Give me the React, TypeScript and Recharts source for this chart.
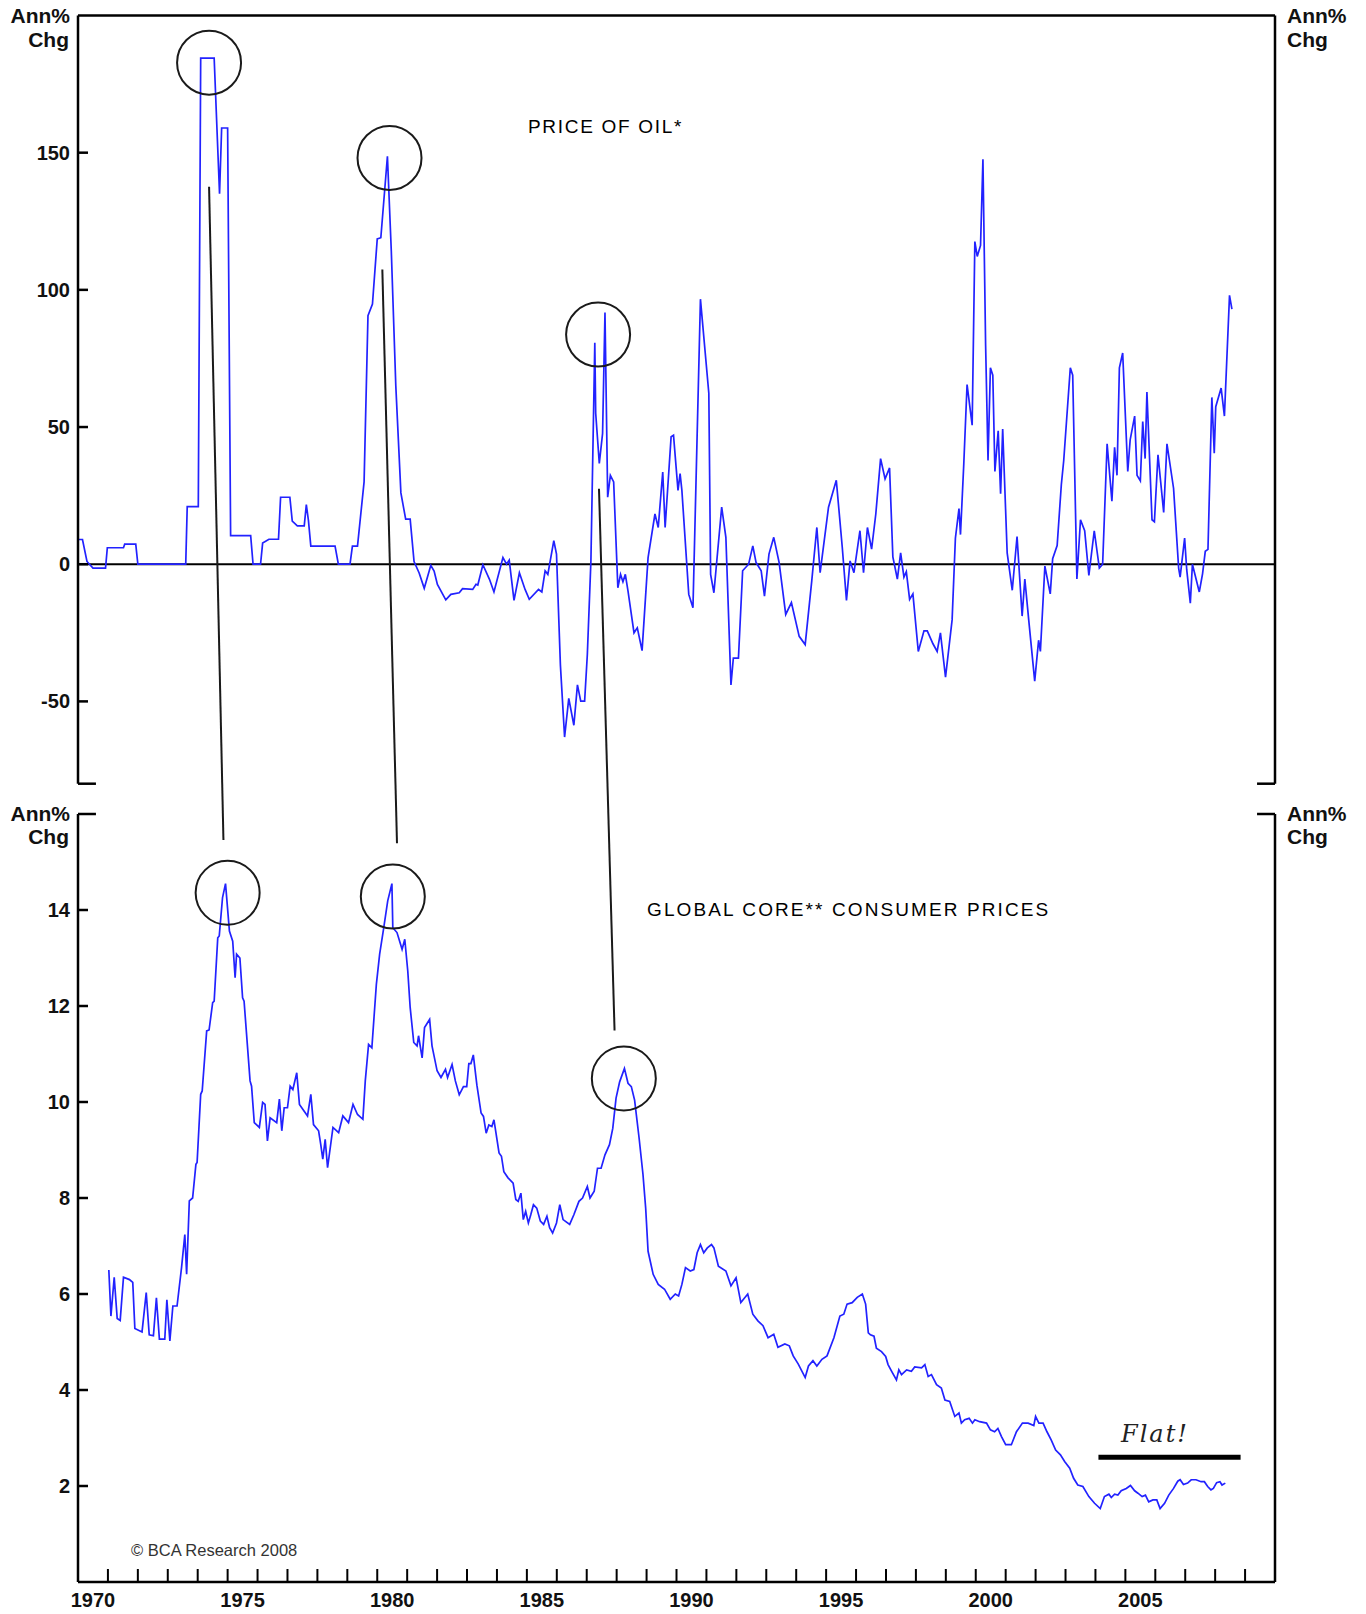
import { LineChart, Line, XAxis, YAxis, ReferenceLine, ReferenceDot } from "recharts"

// ---- data (decimal years, annual % change) ----
const oilYears = [
  1970.0, 1970.15, 1970.3, 1970.5, 1970.92, 1970.98, 1971.52, 1971.56, 1971.93, 1972.0,
  1973.6, 1973.65, 1974.02, 1974.1, 1974.55, 1974.73, 1974.8, 1975.0, 1975.1, 1975.77,
  1975.85, 1976.1, 1976.17, 1976.38, 1976.7, 1976.77, 1977.08, 1977.16, 1977.33, 1977.56,
  1977.63, 1977.7, 1977.78, 1978.59, 1978.7, 1979.09, 1979.17, 1979.34, 1979.56, 1979.69,
  1979.84, 1980.0, 1980.12, 1980.34, 1980.47, 1980.62, 1980.79, 1980.95, 1981.1, 1981.23,
  1981.4, 1981.57, 1981.79, 1981.9, 1982.01, 1982.29, 1982.46, 1982.74, 1982.85, 1983.19,
  1983.3, 1983.36, 1983.53, 1983.75, 1983.9, 1984.2, 1984.32, 1984.41, 1984.57, 1984.75,
  1984.94, 1985.08, 1985.39, 1985.5, 1985.61, 1985.7, 1985.9, 1985.99, 1986.12, 1986.26,
  1986.4, 1986.57, 1986.69, 1986.8, 1986.93, 1987.02, 1987.14, 1987.27, 1987.3, 1987.42,
  1987.53, 1987.61, 1987.7, 1987.79, 1987.9, 1988.04, 1988.13, 1988.21, 1988.29, 1988.38,
  1988.58, 1988.69, 1988.85, 1989.05, 1989.28, 1989.39, 1989.54, 1989.62, 1989.82, 1989.9,
  1990.05, 1990.12, 1990.18, 1990.41, 1990.55, 1990.8, 1991.08, 1991.14, 1991.25, 1991.51,
  1991.65, 1991.82, 1991.9, 1992.07, 1992.21, 1992.41, 1992.55, 1992.66, 1992.83, 1992.94,
  1993.09, 1993.25, 1993.43, 1993.65, 1993.84, 1994.1, 1994.3, 1994.52, 1994.69, 1994.8,
  1995.08, 1995.34, 1995.54, 1995.68, 1995.8, 1995.93, 1996.13, 1996.25, 1996.38, 1996.52,
  1996.66, 1996.82, 1996.97, 1997.12, 1997.23, 1997.38, 1997.49, 1997.6, 1997.68, 1997.79,
  1997.9, 1998.08, 1998.27, 1998.38, 1998.57, 1998.71, 1998.82, 1998.99, 1999.21, 1999.32,
  1999.44, 1999.49, 1999.6, 1999.71, 1999.88, 1999.97, 2000.05, 2000.16, 2000.24, 2000.33,
  2000.41, 2000.49, 2000.57, 2000.64, 2000.75, 2000.83, 2000.9, 2001.05, 2001.22, 2001.38,
  2001.55, 2001.64, 2001.77, 2001.97, 2002.1, 2002.16, 2002.31, 2002.49, 2002.57, 2002.72,
  2002.86, 2002.94, 2003.16, 2003.24, 2003.38, 2003.5, 2003.64, 2003.78, 2003.96, 2004.13,
  2004.24, 2004.39, 2004.55, 2004.64, 2004.72, 2004.8, 2004.91, 2005.08, 2005.16, 2005.31,
  2005.39, 2005.5, 2005.58, 2005.66, 2005.72, 2005.89, 2005.97, 2006.09, 2006.28, 2006.39,
  2006.61, 2006.78, 2006.83, 2006.98, 2007.05, 2007.17, 2007.24, 2007.47, 2007.58, 2007.67,
  2007.76, 2007.89, 2007.97, 2008.02, 2008.2, 2008.31, 2008.48, 2008.56,
]
const oilChange = [
  9, 9, 1, -1.4, -1.4, 6, 6, 7.3, 7.3, 0,
  0, 21, 21, 184.5, 184.5, 135, 159, 159, 10.4, 10.4,
  0, 0, 7.7, 9.1, 9.1, 24.4, 24.4, 15.7, 14, 14,
  21.7, 16, 6.6, 6.6, 0, 0, 6.6, 6.6, 30, 90.6,
  94.8, 118.6, 119, 148.7, 114, 65, 26, 16.4, 16.4, 1,
  -3.2, -8.8, -0.4, -2.5, -7.4, -13, -11, -10.4, -8.9, -9.2,
  -7.3, -7.6, -0.2, -5.5, -10.1, 2.4, 0, 1.5, -13.2, -3.1,
  -9.2, -12.8, -9.2, -10.1, -2.4, -3.7, 8.6, 3.7, -36.7, -63,
  -48.9, -58.7, -44, -49.9, -49.9, -33, 1.2, 80.7, 55, 36.7,
  47.7, 91.7, 24.4, 32.4, 30, -8.6, -3.7, -6.4, -3.7, -9.8,
  -25, -23.2, -31.5, 2.4, 18.3, 13.4, 33.6, 13.4, 46.5, 47,
  26.9, 33, 26.9, -11, -15.9, 96.6, 62.3, -3.7, -10.4, 20.8,
  9.8, -44, -34.2, -34.2, -2.4, 0, 6.7, 0.6, -2.4, -11.6,
  3.7, 9.8, 0.6, -18.3, -14, -26.3, -29.3, -6.1, 13.4, -3.1,
  20.8, 30.6, 6.1, -13.2, 1.2, -3.1, 12.2, -3.1, 13.4, 5.5,
  18.3, 38.5, 31.1, 35.1, 2.7, -5.4, 4.1, -4.7, -2.7, -12.8,
  -10.8, -31.8, -24.3, -24.3, -29, -31.8, -25, -41.2, -20.3, 9.5,
  20.3, 10.8, 36.5, 65.5, 50.7, 117.6, 112.2, 116.2, 147.6, 79.7,
  37.8, 71.6, 68.9, 33.8, 48.6, 25.7, 49.3, 4.1, -9.5, 10.1,
  -18.9, -5.4, -20.3, -42.6, -27.7, -31.8, -0.7, -10.8, 2, 6.8,
  29, 37.8, 71.6, 68.9, -5.4, 16.2, 12.2, -4.1, 12.2, -1.4,
  0, 43.9, 23, 42.6, 32.4, 71.6, 77, 33.8, 45.3, 54,
  32.4, 30.4, 52, 38.5, 62.8, 16.2, 15.5, 39.9, 18.9, 43.9,
  27.7, -1.4, -4.7, 9.5, -2, -14.2, 0, -10.1, -3.4, 4.7,
  5.4, 60.8, 40.5, 57.4, 64.2, 54, 98, 93,
]

const coreYears = [
  1971.03, 1971.1, 1971.21, 1971.31, 1971.41, 1971.52, 1971.72, 1971.83, 1971.9, 1972.14,
  1972.28, 1972.38, 1972.52, 1972.62, 1972.72, 1972.9, 1972.97, 1973.07, 1973.17, 1973.31,
  1973.46, 1973.57, 1973.63, 1973.72, 1973.83, 1973.94, 1973.98, 1974.1, 1974.15, 1974.3,
  1974.38, 1974.5, 1974.55, 1974.67, 1974.72, 1974.83, 1974.93, 1975.06, 1975.17, 1975.25,
  1975.3, 1975.41, 1975.5, 1975.55, 1975.75, 1975.8, 1975.89, 1976.06, 1976.17, 1976.25,
  1976.33, 1976.42, 1976.64, 1976.73, 1976.81, 1976.89, 1977.0, 1977.09, 1977.18, 1977.31,
  1977.4, 1977.67, 1977.78, 1977.87, 1978.04, 1978.11, 1978.18, 1978.26, 1978.34, 1978.52,
  1978.71, 1978.85, 1979.04, 1979.19, 1979.34, 1979.52, 1979.6, 1979.71, 1979.82, 1979.97,
  1980.08, 1980.21, 1980.35, 1980.49, 1980.52, 1980.66, 1980.83, 1980.92, 1981.02, 1981.1,
  1981.22, 1981.33, 1981.38, 1981.5, 1981.58, 1981.75, 1981.83, 1982.0, 1982.13, 1982.28,
  1982.35, 1982.5, 1982.61, 1982.74, 1982.88, 1982.99, 1983.06, 1983.13, 1983.21, 1983.33,
  1983.47, 1983.55, 1983.64, 1983.73, 1983.83, 1983.9, 1984.07, 1984.15, 1984.23, 1984.37,
  1984.54, 1984.63, 1984.71, 1984.8, 1984.88, 1984.96, 1985.05, 1985.13, 1985.22, 1985.33,
  1985.45, 1985.56, 1985.67, 1985.76, 1985.86, 1985.99, 1986.1, 1986.21, 1986.43, 1986.57,
  1986.74, 1986.86, 1987.02, 1987.11, 1987.25, 1987.36, 1987.48, 1987.61, 1987.76, 1987.87,
  1987.98, 1988.1, 1988.26, 1988.38, 1988.49, 1988.6, 1988.75, 1988.88, 1988.97, 1989.05,
  1989.22, 1989.39, 1989.6, 1989.79, 1989.96, 1990.07, 1990.18, 1990.3, 1990.46, 1990.58,
  1990.69, 1990.8, 1990.91, 1991.03, 1991.17, 1991.25, 1991.4, 1991.65, 1991.82, 1991.99,
  1992.15, 1992.38, 1992.55, 1992.72, 1992.89, 1993.06, 1993.25, 1993.39, 1993.62, 1993.77,
  1993.9, 1994.07, 1994.3, 1994.41, 1994.56, 1994.69, 1994.86, 1995.03, 1995.26, 1995.46,
  1995.59, 1995.7, 1995.87, 1996.04, 1996.21, 1996.32, 1996.41, 1996.48, 1996.6, 1996.68,
  1996.85, 1996.99, 1997.07, 1997.19, 1997.35, 1997.43, 1997.52, 1997.69, 1997.85, 1997.96,
  1998.19, 1998.3, 1998.41, 1998.52, 1998.69, 1998.85, 1998.97, 1999.13, 1999.3, 1999.44,
  1999.52, 1999.63, 1999.78, 1999.89, 1999.97, 2000.13, 2000.36, 2000.49, 2000.63, 2000.74,
  2000.86, 2001.0, 2001.19, 2001.36, 2001.56, 2001.75, 2001.94, 2002.0, 2002.11, 2002.25,
  2002.38, 2002.52, 2002.67, 2002.83, 2002.97, 2003.14, 2003.27, 2003.41, 2003.58, 2003.78,
  2003.97, 2004.16, 2004.3, 2004.45, 2004.53, 2004.64, 2004.75, 2004.86, 2005.03, 2005.17,
  2005.31, 2005.42, 2005.56, 2005.67, 2005.78, 2005.92, 2006.05, 2006.16, 2006.31, 2006.45,
  2006.61, 2006.75, 2006.83, 2006.94, 2007.08, 2007.2, 2007.36, 2007.53, 2007.64, 2007.75,
  2007.86, 2007.94, 2008.05, 2008.16, 2008.23, 2008.34,
]
const coreChange = [
  6.5, 5.54, 6.35, 5.49, 5.45, 6.35, 6.3, 6.24, 5.28, 5.21,
  6.03, 5.15, 5.13, 5.92, 5.06, 5.06, 5.88, 5.02, 5.75, 5.75,
  6.55, 7.24, 6.41, 7.94, 8.0, 8.7, 8.74, 10.16, 10.23, 11.48,
  11.5, 12.07, 12.1, 13.42, 13.46, 14.26, 14.55, 13.56, 13.35, 12.59,
  13.08, 13.0, 12.17, 12.1, 10.44, 10.33, 9.57, 9.47, 9.99, 9.95,
  9.19, 9.67, 9.57, 10.06, 9.4, 9.88, 9.88, 10.33, 10.26, 10.61,
  9.95, 9.71, 10.16, 9.53, 9.4, 9.12, 8.81, 9.22, 8.63, 9.47,
  9.36, 9.71, 9.57, 9.95, 9.74, 9.64, 10.44, 11.2, 11.13, 12.45,
  13.08, 13.6, 14.19, 14.55, 13.63, 13.53, 13.18, 13.39, 12.73, 11.97,
  11.24, 11.17, 11.38, 10.92, 11.55, 11.72, 11.17, 10.65, 10.51, 10.68,
  10.51, 10.78, 10.44, 10.15, 10.32, 10.32, 10.8, 10.8, 10.98, 10.35,
  9.77, 9.7, 9.35, 9.52, 9.49, 9.63, 8.94, 8.87, 8.55, 8.42,
  8.31, 7.97, 7.93, 8.1, 7.55, 7.72, 7.48, 7.65, 7.86, 7.79,
  7.52, 7.45, 7.62, 7.38, 7.27, 7.48, 7.86, 7.55, 7.45, 7.65,
  7.93, 8.0, 8.24, 8.0, 8.14, 8.62, 8.62, 8.9, 9.11, 9.45,
  10.08, 10.42, 10.7, 10.39, 10.32, 10.04, 9.25, 8.49, 7.79, 6.89,
  6.41, 6.2, 6.1, 5.89, 6.0, 5.96, 6.2, 6.55, 6.48, 6.51,
  6.86, 7.03, 6.86, 6.96, 7.03, 6.96, 6.58, 6.48, 6.17, 6.34,
  5.82, 6.0, 5.58, 5.44, 5.34, 5.09, 5.16, 4.89, 4.96, 4.92,
  4.71, 4.54, 4.26, 4.5, 4.61, 4.5, 4.64, 4.71, 5.09, 5.54,
  5.58, 5.79, 5.82, 5.93, 6.0, 5.79, 5.19, 5.15, 5.12, 4.87,
  4.8, 4.7, 4.53, 4.39, 4.21, 4.42, 4.32, 4.42, 4.39, 4.48,
  4.46, 4.53, 4.28, 4.32, 4.11, 4.04, 3.79, 3.76, 3.45, 3.52,
  3.31, 3.38, 3.41, 3.31, 3.38, 3.34, 3.31, 3.17, 3.13, 3.2,
  3.03, 2.86, 2.86, 3.13, 3.31, 3.31, 3.26, 3.45, 3.31, 3.31,
  3.13, 2.96, 2.75, 2.65, 2.51, 2.37, 2.16, 2.02, 1.99, 1.78,
  1.64, 1.53, 1.78, 1.83, 1.76, 1.83, 1.81, 1.9, 1.95, 2.01,
  1.9, 1.85, 1.78, 1.81, 1.67, 1.71, 1.71, 1.53, 1.64, 1.81,
  1.95, 2.1, 2.13, 2.03, 2.06, 2.13, 2.13, 2.09, 2.09, 1.99,
  1.92, 1.95, 2.07, 2.09, 2.02, 2.06,
]

const oilTicks = [-50, 0, 50, 100, 150]
const coreTicks = [2, 4, 6, 8, 10, 12, 14]
const yearLabels = [1970, 1975, 1980, 1985, 1990, 1995, 2000, 2005]
const yearTicks = Array.from({ length: 40 }, (_, i) => 1970 + i)

// annotation rings and connectors (data coordinates)
const oilRings = [
  { x: 1974.38, y: 182.8 },
  { x: 1980.41, y: 148.1 },
  { x: 1987.38, y: 83.7 },
]
const coreRings = [
  { x: 1975.0, y: 14.36 },
  { x: 1980.52, y: 14.28 },
  { x: 1988.24, y: 10.49 },
]
const connectors = [
  { fromYear: 1974.38, fromOil: 137.6, toYear: 1974.86, toCore: 15.46 },
  { fromYear: 1980.17, fromOil: 107.4, toYear: 1980.66, toCore: 15.39 },
  { fromYear: 1987.41, fromOil: 27.5, toYear: 1987.93, toCore: 11.49 },
]

const oilData = oilYears.map((x, i) => ({ x, y: oilChange[i] }))
const coreData = coreYears.map((x, i) => ({ x, y: coreChange[i] }))

// ---- layout ----
const W = 1366
const PLOT_LEFT = 78
const PLOT_RIGHT = 1275
const UPPER_H = 800
const UPPER_TOP = 15.5
const UPPER_BOTTOM = 783.7
const LOWER_H = 814
const LOWER_TOP = 814 // page y
const LOWER_BOTTOM = 1582 // page y
const SPLIT = 800

const OIL_DOMAIN = [-80, 200]
const CORE_DOMAIN = [0, 16]
const HALF_YEAR = (PLOT_RIGHT - PLOT_LEFT) / 40 / 2

const FONT = "'Liberation Sans', Arial, sans-serif"
const BLUE = "#2222ff"

const oilPx = (v: number) =>
  UPPER_TOP + ((OIL_DOMAIN[1] - v) / (OIL_DOMAIN[1] - OIL_DOMAIN[0])) * (UPPER_BOTTOM - UPPER_TOP)
const corePx = (v: number) =>
  LOWER_TOP + ((CORE_DOMAIN[1] - v) / (CORE_DOMAIN[1] - CORE_DOMAIN[0])) * (LOWER_BOTTOM - LOWER_TOP)
const oilAtSplit =
  OIL_DOMAIN[1] - ((SPLIT - UPPER_TOP) / (UPPER_BOTTOM - UPPER_TOP)) * (OIL_DOMAIN[1] - OIL_DOMAIN[0])
const coreAtSplit =
  CORE_DOMAIN[1] + ((LOWER_TOP - SPLIT) / (LOWER_BOTTOM - LOWER_TOP)) * (CORE_DOMAIN[1] - CORE_DOMAIN[0])

const splitYear = (c: (typeof connectors)[number]) => {
  const p1 = oilPx(c.fromOil)
  const p2 = corePx(c.toCore)
  const t = (SPLIT - p1) / (p2 - p1)
  return c.fromYear + t * (c.toYear - c.fromYear)
}

const makeYTick = (side: "left" | "right") => (props: any) => {
  const { x, y, payload } = props
  const dir = side === "left" ? 1 : -1
  return (
    <g>
      <line x1={x} x2={x + dir * 10} y1={y} y2={y} stroke="#000" strokeWidth={2.5} />
      <text
        x={side === "left" ? x - 8 : x + 10}
        y={y + 7}
        textAnchor={side === "left" ? "end" : "start"}
        fontFamily={FONT}
        fontSize={20}
        fontWeight="bold"
        fill="#111"
      >
        {payload.value}
      </text>
    </g>
  )
}
const LeftTick = makeYTick("left")
const RightTick = makeYTick("right")

const YearTick = (props: any) => {
  const { x, y, payload } = props
  const v = payload.value
  return (
    <g>
      {v > 1970 && <line x1={x} x2={x} y1={y} y2={y - 13} stroke="#000" strokeWidth={2} />}
      {yearLabels.includes(v) && (
        <text
          x={x + HALF_YEAR}
          y={y + 25}
          textAnchor="middle"
          fontFamily={FONT}
          fontSize={20}
          fontWeight="bold"
          fill="#111"
        >
          {v}
        </text>
      )}
    </g>
  )
}

const axisLine = { stroke: "#000", strokeWidth: 2.5 }

export default function App() {
  return (
    <div style={{ position: "relative", width: W, height: 1614, background: "#fff" }}>
      <style>{`body{margin:0}`}</style>

      <div style={{ position: "absolute", left: 0, top: 0 }}>
        <LineChart
          width={W}
          height={UPPER_H}
          data={oilData}
          margin={{ top: UPPER_TOP, bottom: UPPER_H - UPPER_BOTTOM, left: 0, right: 0 }}
        >
          <XAxis type="number" dataKey="x" domain={[1970, 2010]} hide allowDataOverflow />
          <YAxis
            yAxisId="left"
            type="number"
            domain={OIL_DOMAIN}
            ticks={oilTicks}
            interval={0}
            width={PLOT_LEFT}
            tickSize={0}
            tickMargin={0}
            tickLine={false}
            axisLine={axisLine}
            tick={LeftTick}
          />
          <YAxis
            yAxisId="right"
            orientation="right"
            type="number"
            domain={OIL_DOMAIN}
            ticks={oilTicks}
            interval={0}
            width={W - PLOT_RIGHT}
            tickSize={0}
            tickMargin={0}
            tickLine={false}
            axisLine={axisLine}
            tick={RightTick}
          />
          <ReferenceLine yAxisId="left" y={200} stroke="#000" strokeWidth={2.5} ifOverflow="visible" />
          <ReferenceLine yAxisId="left" y={0} stroke="#000" strokeWidth={2} />
          <ReferenceLine
            yAxisId="left"
            segment={[{ x: 1970, y: -80 }, { x: 1970.6, y: -80 }]}
            stroke="#000"
            strokeWidth={2.5}
            ifOverflow="visible"
          />
          <ReferenceLine
            yAxisId="left"
            segment={[{ x: 2009.4, y: -80 }, { x: 2010, y: -80 }]}
            stroke="#000"
            strokeWidth={2.5}
            ifOverflow="visible"
          />
          <Line
            yAxisId="left"
            type="linear"
            dataKey="y"
            stroke={BLUE}
            strokeWidth={1.7}
            dot={false}
            activeDot={false}
            isAnimationActive={false}
          />
          {oilRings.map((r, i) => (
            <ReferenceDot
              key={i}
              yAxisId="left"
              x={r.x}
              y={r.y}
              r={32}
              fill="none"
              stroke="#1a1a1a"
              strokeWidth={2}
              ifOverflow="visible"
            />
          ))}
          {connectors.map((c, i) => (
            <ReferenceLine
              key={i}
              yAxisId="left"
              segment={[
                { x: c.fromYear, y: c.fromOil },
                { x: splitYear(c), y: oilAtSplit },
              ]}
              stroke="#1a1a1a"
              strokeWidth={2}
              ifOverflow="visible"
            />
          ))}
        </LineChart>
      </div>

      <div style={{ position: "absolute", left: 0, top: SPLIT }}>
        <LineChart
          width={W}
          height={LOWER_H}
          data={coreData}
          margin={{ top: LOWER_TOP - SPLIT, bottom: 0, left: 0, right: 0 }}
        >
          <XAxis
            type="number"
            dataKey="x"
            domain={[1970, 2010]}
            allowDataOverflow
            ticks={yearTicks}
            interval={0}
            height={SPLIT + LOWER_H - LOWER_BOTTOM}
            tickSize={0}
            tickMargin={0}
            tickLine={false}
            axisLine={axisLine}
            tick={YearTick}
          />
          <YAxis
            yAxisId="left"
            type="number"
            domain={CORE_DOMAIN}
            ticks={coreTicks}
            interval={0}
            width={PLOT_LEFT}
            tickSize={0}
            tickMargin={0}
            tickLine={false}
            axisLine={axisLine}
            tick={LeftTick}
          />
          <YAxis
            yAxisId="right"
            orientation="right"
            type="number"
            domain={CORE_DOMAIN}
            ticks={coreTicks}
            interval={0}
            width={W - PLOT_RIGHT}
            tickSize={0}
            tickMargin={0}
            tickLine={false}
            axisLine={axisLine}
            tick={RightTick}
          />
          <ReferenceLine
            yAxisId="left"
            segment={[{ x: 1970, y: 16 }, { x: 1970.6, y: 16 }]}
            stroke="#000"
            strokeWidth={2.5}
            ifOverflow="visible"
          />
          <ReferenceLine
            yAxisId="left"
            segment={[{ x: 2009.4, y: 16 }, { x: 2010, y: 16 }]}
            stroke="#000"
            strokeWidth={2.5}
            ifOverflow="visible"
          />
          <ReferenceLine
            yAxisId="left"
            segment={[{ x: 2004.1, y: 2.6 }, { x: 2008.85, y: 2.6 }]}
            stroke="#000"
            strokeWidth={5}
          />
          <Line
            yAxisId="left"
            type="linear"
            dataKey="y"
            stroke={BLUE}
            strokeWidth={1.7}
            dot={false}
            activeDot={false}
            isAnimationActive={false}
          />
          {coreRings.map((r, i) => (
            <ReferenceDot
              key={i}
              yAxisId="left"
              x={r.x}
              y={r.y}
              r={32}
              fill="none"
              stroke="#1a1a1a"
              strokeWidth={2}
              ifOverflow="visible"
            />
          ))}
          {connectors.map((c, i) => (
            <ReferenceLine
              key={i}
              yAxisId="left"
              segment={[
                { x: splitYear(c), y: coreAtSplit },
                { x: c.toYear, y: c.toCore },
              ]}
              stroke="#1a1a1a"
              strokeWidth={2}
              ifOverflow="visible"
            />
          ))}
        </LineChart>
      </div>

      <svg
        width={W}
        height={1614}
        style={{ position: "absolute", left: 0, top: 0, pointerEvents: "none" }}
      >
        <g fontFamily={FONT} fontSize={21} fontWeight="bold" fill="#111">
          <text x={70} y={23} textAnchor="end">Ann%</text>
          <text x={69} y={47} textAnchor="end">Chg</text>
          <text x={1287} y={23}>Ann%</text>
          <text x={1287} y={47}>Chg</text>
          <text x={70} y={821} textAnchor="end">Ann%</text>
          <text x={69} y={844} textAnchor="end">Chg</text>
          <text x={1287} y={821}>Ann%</text>
          <text x={1287} y={844}>Chg</text>
        </g>
        <g fontFamily={FONT} fontSize={19} fill="#000">
          <text x={528} y={133} letterSpacing={1.7}>PRICE OF OIL*</text>
          <text x={647} y={916} letterSpacing={2.1}>GLOBAL CORE** CONSUMER PRICES</text>
        </g>
        <text x={131} y={1556} fontFamily={FONT} fontSize={16.5} fill="#333">
          © BCA Research 2008
        </text>
        <text
          x={1155}
          y={1442}
          textAnchor="middle"
          fontFamily="'DejaVu Serif', serif"
          fontStyle="italic"
          fontSize={24}
          letterSpacing={2}
          fill="#222"
        >
          Flat!
        </text>
      </svg>
    </div>
  )
}
